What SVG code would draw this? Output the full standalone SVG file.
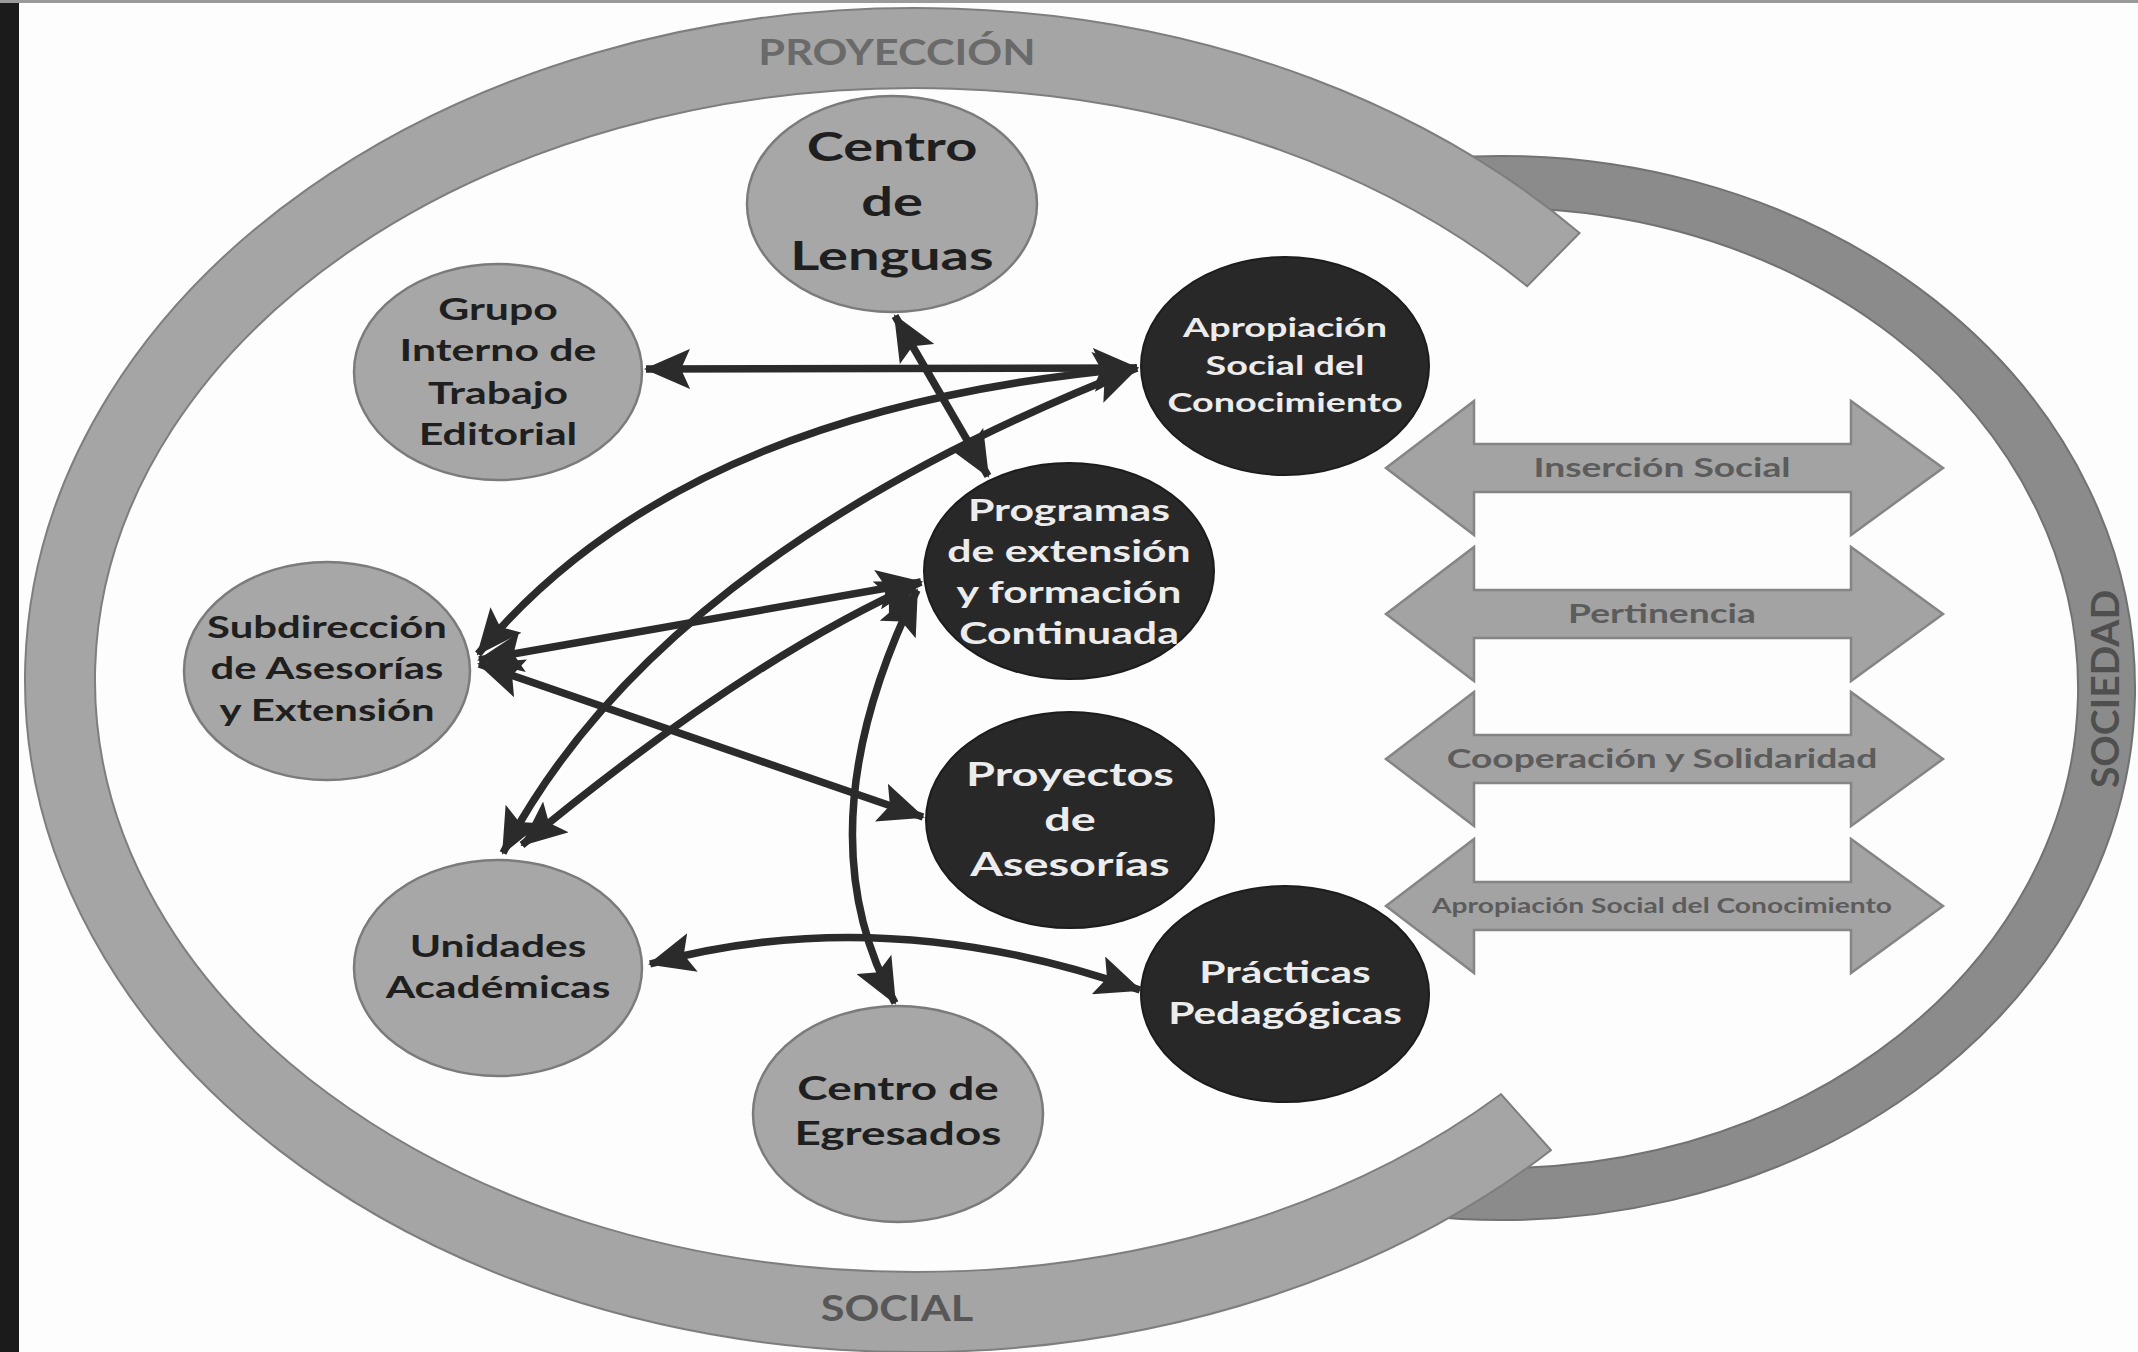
<svg xmlns="http://www.w3.org/2000/svg" width="2138" height="1352" viewBox="0 0 2138 1352">
<style>
text{font-family:Lato,"Liberation Sans",sans-serif;font-weight:700;text-anchor:middle}
.light ellipse{fill:#a7a7a7;stroke:#7b7b7b;stroke-width:2.5}
.dark ellipse{fill:#282828;stroke:#1c1c1c;stroke-width:2}
.light text{fill:#1f1f1f}
.dark text{fill:#ececec}
.conn path{fill:none;stroke:#2b2b2b;stroke-width:7.5}
.barrow polygon{fill:#a3a3a3;stroke:#858585;stroke-width:2.5}
.barrow text{fill:#5c5c5c}
.ringtxt{fill:#6a6a6a}
</style>
<defs>
<marker id="ah" viewBox="0 0 46 40" markerWidth="46" markerHeight="40" refX="44" refY="20" orient="auto-start-reverse" markerUnits="userSpaceOnUse">
<path d="M0,0 L46,20 L0,40 L9,20 z" fill="#2b2b2b"/>
</marker>
</defs>
<rect x="0" y="0" width="2138" height="1352" fill="#fdfdfd"/>
<rect x="0" y="0" width="19" height="1352" fill="#1b1b1b"/>
<rect x="0" y="0" width="2138" height="3" fill="#9a9a9a"/>

<g id="anillo-sociedad">
<path d="M 1445 158 A 635 532 0 1 1 1420.4 1215.8 L 1427.6 1164.2 A 578 480 0 1 0 1449.9 209.8 Z" fill="#8b8b8b" stroke="#727272" stroke-width="2"/>
<text transform="translate(2119 689) rotate(-90)" x="0" y="0" font-size="39" fill="#4f4f4f">SOCIEDAD</text>
</g>
<g id="anillo-proyeccion-social">
<path d="M 1550.9 1150.2 A 890 672 0 1 1 1579.5 233.0 L 1527.2 286.2 A 820 592 0 1 0 1500.9 1094.2 Z" fill="#a5a5a5" stroke="#7e7e7e" stroke-width="2"/>
<g transform="translate(897 0) scale(1.17 1)"><text class="ringtxt" x="0" y="65" font-size="37">PROYECCIÓN</text></g>
<g transform="translate(897 0) scale(1.17 1)"><text x="0" y="1321" font-size="37" fill="#575757">SOCIAL</text></g>
</g>

<g id="flechas-dobles" class="barrow">
<g id="flecha-insercion"><polygon points="1386,468 1474,401 1474,444 1851,444 1851,401 1943,468 1851,535 1851,492 1474,492 1474,535"/>
<g transform="translate(1662 0) scale(1.43 1)"><text x="0" y="477" font-size="26">Inserción Social</text></g></g>
<g id="flecha-pertinencia"><polygon points="1386,614 1474,547 1474,590 1851,590 1851,547 1943,614 1851,681 1851,638 1474,638 1474,681"/>
<g transform="translate(1662 0) scale(1.43 1)"><text x="0" y="623" font-size="26">Pertinencia</text></g></g>
<g id="flecha-cooperacion"><polygon points="1386,759 1474,692 1474,735 1851,735 1851,692 1943,759 1851,826 1851,783 1474,783 1474,826"/>
<g transform="translate(1662 0) scale(1.43 1)"><text x="0" y="768" font-size="26">Cooperación y Solidaridad</text></g></g>
<g id="flecha-apropiacion"><polygon points="1386,906 1474,839 1474,882 1851,882 1851,839 1943,906 1851,973 1851,930 1474,930 1474,973"/>
<g transform="translate(1662 0) scale(1.41 1)"><text x="0" y="913" font-size="20">Apropiación Social del Conocimiento</text></g></g>
</g>

<g id="centro-lenguas" class="light"><ellipse cx="892" cy="204" rx="145" ry="108"/>
<g transform="translate(892 0) scale(1.4 1)" font-size="40"><text x="0" y="161">Centro</text><text x="0" y="216">de</text><text x="0" y="270">Lenguas</text></g></g>
<g id="grupo-editorial" class="light"><ellipse cx="498" cy="372" rx="144" ry="108"/>
<g transform="translate(498 0) scale(1.38 1)" font-size="31"><text x="0" y="320">Grupo</text><text x="0" y="361">Interno de</text><text x="0" y="404">Trabajo</text><text x="0" y="445">Editorial</text></g></g>
<g id="apropiacion-social" class="dark"><ellipse cx="1285" cy="366" rx="144" ry="109"/>
<g transform="translate(1285 0) scale(1.4 1)" font-size="27"><text x="0" y="337">Apropiación</text><text x="0" y="375">Social del</text><text x="0" y="412">Conocimiento</text></g></g>
<g id="programas-extension" class="dark"><ellipse cx="1069" cy="571" rx="145" ry="108"/>
<g transform="translate(1069 0) scale(1.38 1)" font-size="31"><text x="0" y="521">Programas</text><text x="0" y="562">de extensión</text><text x="0" y="603">y formación</text><text x="0" y="644">Continuada</text></g></g>
<g id="subdireccion" class="light"><ellipse cx="327" cy="671" rx="143" ry="109"/>
<g transform="translate(327 0) scale(1.35 1)" font-size="31"><text x="0" y="638">Subdirección</text><text x="0" y="679">de Asesorías</text><text x="0" y="721">y Extensión</text></g></g>
<g id="proyectos-asesorias" class="dark"><ellipse cx="1070" cy="820" rx="144" ry="108"/>
<g transform="translate(1070 0) scale(1.42 1)" font-size="33"><text x="0" y="786">Proyectos</text><text x="0" y="831">de</text><text x="0" y="876">Asesorías</text></g></g>
<g id="unidades-academicas" class="light"><ellipse cx="498" cy="968" rx="144" ry="108"/>
<g transform="translate(498 0) scale(1.37 1)" font-size="31"><text x="0" y="957">Unidades</text><text x="0" y="998">Académicas</text></g></g>
<g id="practicas-pedagogicas" class="dark"><ellipse cx="1285" cy="994" rx="144" ry="108"/>
<g transform="translate(1285 0) scale(1.37 1)" font-size="31"><text x="0" y="983">Prácticas</text><text x="0" y="1024">Pedagógicas</text></g></g>
<g id="centro-egresados" class="light"><ellipse cx="898" cy="1114" rx="145" ry="108"/>
<g transform="translate(898 0) scale(1.39 1)" font-size="33"><text x="0" y="1100">Centro de</text><text x="0" y="1145">Egresados</text></g></g>

<g id="conectores" class="conn">
<path d="M 646 369 L 1137 368" marker-start="url(#ah)" marker-end="url(#ah)"/>
<path d="M 895 316 L 988 476" marker-start="url(#ah)" marker-end="url(#ah)"/>
<path d="M 1137 368 Q 680 408 478 654" marker-start="url(#ah)" marker-end="url(#ah)"/>
<path d="M 1137 368 Q 658 556 503 853" marker-start="url(#ah)" marker-end="url(#ah)"/>
<path d="M 921 582 L 479 660" marker-start="url(#ah)" marker-end="url(#ah)"/>
<path d="M 921 582 Q 745 660 522 845" marker-start="url(#ah)" marker-end="url(#ah)"/>
<path d="M 917 590 Q 800 830 895 1003" marker-start="url(#ah)" marker-end="url(#ah)"/>
<path d="M 479 664 L 923 817" marker-start="url(#ah)" marker-end="url(#ah)"/>
<path d="M 650 964 Q 885 900 1140 990" marker-start="url(#ah)" marker-end="url(#ah)"/>
</g>
</svg>
